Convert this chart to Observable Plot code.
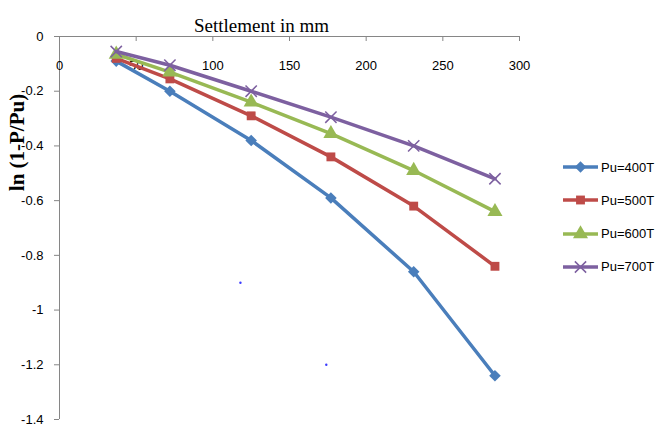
<!DOCTYPE html>
<html>
<head>
<meta charset="utf-8">
<script src="https://cdn.jsdelivr.net/npm/d3@7"></script>
<script src="https://cdn.jsdelivr.net/npm/@observablehq/plot@0.6"></script>
<style>
  html, body { margin: 0; padding: 0; background: #fff; }
  #wrap { position: relative; width: 661px; height: 432px; }
  #legend { position: absolute; left: 563px; top: 157px; font: 13px "Liberation Sans", Arial, sans-serif; color: #000; }
  .item { display: flex; align-items: center; height: 20px; margin-bottom: 13.3px; }
  .item svg { margin-right: 3px; }
</style>
</head>
<body>
<div id="wrap"><div id="legend"></div></div>
<script>
// ---- data ----
const settlement = [37, 72, 125, 177, 231, 284];
const seriesNames = ["Pu=400T", "Pu=500T", "Pu=600T", "Pu=700T"];
const pu400 = [-0.09, -0.2, -0.38, -0.59, -0.86, -1.24];
const pu500 = [-0.08, -0.155, -0.29, -0.44, -0.62, -0.84];
const pu600 = [-0.065, -0.13, -0.24, -0.355, -0.49, -0.64];
const pu700 = [-0.055, -0.105, -0.2, -0.295, -0.4, -0.52];
const strayX = [118, 174];
const strayY = [-0.9, -1.2];
const xTicks = [0, 50, 100, 150, 200, 250, 300];
const yTicks = [0, -0.2, -0.4, -0.6, -0.8, -1, -1.2, -1.4];
const titleText = "Settlement in mm";
const yLabelText = "ln (1-P/Pu)";

const colors = ["#4A7EBB", "#BE4B48", "#98B954", "#7D60A0"];
const symbols = ["diamond2", "square", "triangle", "times"];
const radii = [5.2, 5, 5.6, 5.2];
const allValues = [pu400, pu500, pu600, pu700];

const rows = [];
allValues.forEach((vals, s) => vals.forEach((v, i) => rows.push({series: seriesNames[s], x: settlement[i], y: v})));
const strays = strayX.map((x, i) => ({x, y: strayY[i]}));

const axisColor = "#868686";
const tickFont = "Liberation Sans, Arial, sans-serif";

const marks = [
  Plot.ruleY([0], {stroke: axisColor, strokeWidth: 1}),
  Plot.ruleX([0], {stroke: axisColor, strokeWidth: 1}),
  Plot.ruleX(xTicks, {x: d => d, y1: 0, y2: 0, insetBottom: -5, stroke: axisColor}),
  Plot.ruleY(yTicks, {y: d => d, x1: 0, x2: 0, insetLeft: -5, stroke: axisColor}),
  Plot.text(xTicks, {x: d => d, frameAnchor: "top", dy: 24, text: d => String(d), fontSize: 13, fontFamily: tickFont, fill: "#000"}),
  Plot.text(yTicks, {y: d => d, frameAnchor: "left", dx: -16, textAnchor: "end", text: d => String(d), fontSize: 13, fontFamily: tickFont, fill: "#000"}),
  Plot.text([titleText], {frameAnchor: "top", dx: -28, dy: -18, text: d => d, fontSize: 19, fontFamily: "Liberation Serif, Times New Roman, serif", fill: "#000"}),
  Plot.text([yLabelText], {frameAnchor: "top-left", dx: -42, dy: 106, rotate: -90, textAnchor: "middle", lineAnchor: "middle", text: d => d, fontSize: 21, fontWeight: "bold", fontFamily: "Liberation Serif, Times New Roman, serif", fill: "#000"}),
  Plot.dot(strays, {x: "x", y: "y", r: 1.2, fill: "#3b3bff", stroke: "none"})
];
seriesNames.forEach((name, s) => {
  const data = rows.filter(d => d.series === name);
  marks.push(Plot.line(data, {x: "x", y: "y", stroke: colors[s], strokeWidth: 3.5}));
  const isTimes = symbols[s] === "times";
  marks.push(Plot.dot(data, {x: "x", y: "y", symbol: () => symbols[s], r: radii[s],
    fill: isTimes ? "none" : colors[s], stroke: colors[s], strokeWidth: isTimes ? 1.5 : 0}));
});

const chart = Plot.plot({
  width: 661, height: 432,
  marginLeft: 59, marginRight: 142, marginTop: 36, marginBottom: 13,
  x: {domain: [0, 300], axis: null},
  y: {domain: [-1.4, 0], axis: null},
  symbol: {type: "identity"},
  style: {background: "#fff", overflow: "visible"},
  marks
});
document.getElementById("wrap").prepend(chart);

// legend
const legend = document.getElementById("legend");
seriesNames.forEach((name, s) => {
  const item = document.createElement("div");
  item.className = "item";
  const sym = d3.symbol(s === 0 ? d3.symbolDiamond2 : s === 1 ? d3.symbolSquare : s === 2 ? d3.symbolTriangle : d3.symbolTimes, Math.PI * radii[s] * radii[s])();
  const isTimes = s === 3;
  item.innerHTML = `<svg width="35" height="20"><line x1="0" x2="35" y1="10" y2="10" stroke="${colors[s]}" stroke-width="3.5"/>` +
    `<path d="${sym}" transform="translate(17.5,10)" fill="${isTimes ? "none" : colors[s]}" stroke="${colors[s]}" stroke-width="${isTimes ? 1.5 : 0}"/></svg><span>${name}</span>`;
  legend.appendChild(item);
});
</script>
</body>
</html>
